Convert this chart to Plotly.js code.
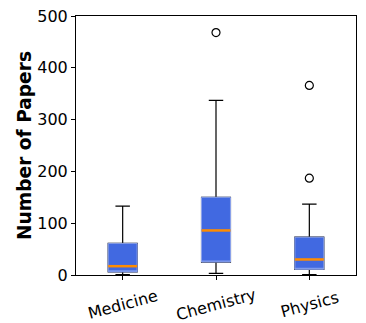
<!DOCTYPE html>
<html>
<head>
<meta charset="utf-8">
<script src="https://cdn.plot.ly/plotly-3.0.1.min.js"></script>
<style>
  html, body { margin: 0; padding: 0; background: #fff; }
  #chart { width: 366px; height: 323px; }
</style>
</head>
<body>
<div id="chart"></div>
<script>
// values
const categories = ['Medicine', 'Chemistry', 'Physics'];
const q1 = [6, 25, 11];
const medians = [17, 86, 30];
const q3 = [61, 150, 73];
const lowerWhisker = [1, 3, 1];
const upperWhisker = [133, 337, 137];
const outlierCategory = ['Chemistry', 'Physics', 'Physics'];
const outlierValues = [468, 366, 187];

function drawBoxPlot(id) {
    const boxWidth = 0.31;
    const pos = categories.map(function(c, i) { return i; });

    // whiskers + caps (black)
    let whiskers = {
        type: 'box',
        x: pos,
        q1: q1,
        median: medians,
        q3: q3,
        lowerfence: lowerWhisker,
        upperfence: upperWhisker,
        width: boxWidth,
        whiskerwidth: 0.5,
        boxpoints: false,
        fillcolor: 'royalblue',
        line: {color: 'black', width: 1.2},
        hoverinfo: 'skip',
    };

    // the filled box itself
    let boxes = {
        type: 'box',
        x: pos,
        q1: q1,
        median: q1,
        q3: q3,
        lowerfence: q1,
        upperfence: q3,
        width: boxWidth,
        whiskerwidth: 0,
        boxpoints: false,
        fillcolor: 'royalblue',
        line: {color: '#8ea5ee', width: 1},
        hoverinfo: 'skip',
    };

    // orange median lines
    let mx = [], my = [];
    medians.forEach(function(m, i) {
        mx.push(i - boxWidth / 2, i + boxWidth / 2, null);
        my.push(m, m, null);
    });
    let medianLines = {
        type: 'scatter',
        mode: 'lines',
        x: mx,
        y: my,
        line: {color: 'darkorange', width: 2.5},
        hoverinfo: 'skip',
    };

    let fliers = {
        type: 'scatter',
        mode: 'markers',
        x: outlierCategory.map(function(c) { return categories.indexOf(c); }),
        y: outlierValues,
        marker: {symbol: 'circle-open', size: 8, color: 'black', line: {width: 1.2, color: 'black'}},
        hoverinfo: 'skip',
    };

    // rotated category labels, centred under the ticks (matplotlib style)
    let labels = categories.map(function(c, i) {
        return {
            x: i, y: 0, xref: 'x', yref: 'paper',
            text: c, showarrow: false,
            textangle: -15,
            xanchor: 'center', yanchor: 'middle',
            yshift: -29,
            font: {size: 16, color: 'black'},
        };
    });

    let layout = {
        width: 366,
        height: 323,
        margin: {l: 76, r: 10, t: 16, b: 48},
        paper_bgcolor: 'white',
        plot_bgcolor: 'white',
        showlegend: false,
        font: {family: 'DejaVu Sans', color: 'black', size: 16},
        annotations: labels,
        xaxis: {
            range: [-0.5, 2.5],
            tickvals: pos,
            showticklabels: false,
            ticks: 'outside',
            ticklen: 4,
            tickcolor: 'black',
            showline: true,
            mirror: true,
            linecolor: 'black',
            linewidth: 1,
            showgrid: false,
            zeroline: false,
        },
        yaxis: {
            range: [0, 500],
            tickvals: [0, 100, 200, 300, 400, 500],
            ticks: 'outside',
            ticklen: 4,
            tickcolor: 'black',
            showline: true,
            mirror: true,
            linecolor: 'black',
            linewidth: 1,
            showgrid: false,
            zeroline: false,
            tickfont: {size: 16, color: 'black'},
            title: {text: '<b>Number of Papers</b>', font: {size: 18.6, color: 'black'}, standoff: 0},
        },
    };

    Plotly.newPlot(id, [whiskers, boxes, medianLines, fliers], layout, {staticPlot: true});
}

drawBoxPlot('chart');
</script>
</body>
</html>
